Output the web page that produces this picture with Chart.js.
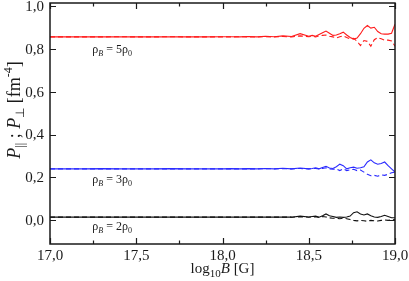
<!DOCTYPE html>
<html>
<head>
<meta charset="utf-8">
<script src="https://cdn.jsdelivr.net/npm/chart.js@4/dist/chart.umd.min.js"></script>
<style>
html,body{margin:0;padding:0;background:#fff;}
#wrap{width:409px;height:281px;}
.pre{font-family:"Liberation Serif";position:absolute;left:-999px;top:0;}
</style>
</head>
<body>
<span class="pre">17,0 <i>P</i></span>
<div id="wrap"><canvas id="c" width="409" height="281"></canvas></div>
<script>
// log10 B values
const logB = [17.0,17.1,17.2,17.3,17.4,17.5,17.6,17.7,17.8,17.9,18.0,
  18.05,18.1,18.15,18.2,18.25,18.3,18.35,18.4,18.45,18.5,
  18.52,18.54,18.56,18.58,18.6,18.62,18.64,18.66,18.68,18.7,18.72,18.74,18.76,18.78,18.8,
  18.82,18.84,18.86,18.88,18.9,18.92,18.94,18.96,18.98,19.0];

// rho_B = 5 rho_0
const red_par = [0.855,0.855,0.856,0.855,0.855,0.856,0.855,0.855,0.856,0.855,0.856,
  0.856,0.855,0.857,0.855,0.858,0.856,0.860,0.857,0.870,0.858,
  0.862,0.858,0.866,0.874,0.882,0.872,0.862,0.864,0.870,0.877,0.864,0.852,0.845,0.850,0.870,
  0.895,0.908,0.896,0.900,0.880,0.870,0.868,0.868,0.872,0.914];
const red_perp = [0.855,0.855,0.855,0.855,0.856,0.855,0.855,0.856,0.855,0.855,0.855,
  0.855,0.856,0.855,0.854,0.856,0.855,0.857,0.855,0.860,0.856,
  0.858,0.855,0.860,0.862,0.864,0.858,0.855,0.850,0.856,0.860,0.852,0.846,0.848,0.835,0.815,
  0.838,0.834,0.812,0.842,0.852,0.846,0.840,0.840,0.836,0.812];

// rho_B = 3 rho_0
const blue_par = [0.240,0.240,0.240,0.241,0.240,0.240,0.240,0.241,0.240,0.240,0.240,
  0.241,0.240,0.241,0.240,0.242,0.240,0.243,0.240,0.244,0.240,
  0.242,0.245,0.240,0.246,0.252,0.244,0.242,0.250,0.262,0.255,0.240,0.245,0.248,0.243,0.245,
  0.250,0.272,0.282,0.268,0.262,0.265,0.272,0.255,0.240,0.225];
const blue_perp = [0.240,0.240,0.240,0.240,0.240,0.240,0.240,0.240,0.240,0.240,0.240,
  0.240,0.240,0.240,0.240,0.241,0.240,0.241,0.240,0.242,0.240,
  0.241,0.242,0.240,0.242,0.245,0.240,0.238,0.240,0.232,0.240,0.232,0.236,0.238,0.232,0.235,
  0.225,0.215,0.208,0.210,0.206,0.212,0.210,0.215,0.222,0.225];

// rho_B = 2 rho_0
const black_par = [0.015,0.015,0.015,0.015,0.015,0.015,0.015,0.015,0.015,0.015,0.015,
  0.015,0.015,0.016,0.015,0.016,0.015,0.016,0.015,0.020,0.016,
  0.018,0.020,0.015,0.022,0.030,0.022,0.018,0.014,0.016,0.014,0.016,0.020,0.036,0.040,0.030,
  0.025,0.030,0.022,0.016,0.014,0.018,0.024,0.018,0.012,0.012];
const black_perp = [0.015,0.015,0.015,0.015,0.015,0.015,0.015,0.015,0.015,0.015,0.015,
  0.015,0.015,0.015,0.015,0.015,0.015,0.015,0.015,0.017,0.015,
  0.016,0.017,0.014,0.018,0.016,0.012,0.010,0.010,0.008,0.010,0.008,0.004,0.000,-0.002,0.000,
  -0.002,-0.004,0.000,-0.002,-0.003,0.000,0.002,0.000,0.002,0.004];

// tick labels
const xTickValues = [17.0,17.5,18.0,18.5,19.0];
const xTickLabels = ["17,0","17,5","18,0","18,5","19,0"];
const xMinorValues = [17.25,17.75,18.25,18.75];
const yTickValues = [0.0,0.2,0.4,0.6,0.8,1.0];
const yTickLabels = ["0,0","0,2","0,4","0,6","0,8","1,0"];

const curveLabels = [
  {main:"5", y:0.78},
  {main:"3", y:0.173},
  {main:"2", y:-0.047}
];

function pts(arr){ return logB.map((x,i)=>({x:x, y:arr[i]})); }

const RED = "#ff1a1a", BLUE = "#2a2aff", BLACK = "#111111";
function ds(arr, color, dashed){
  return {data: pts(arr), borderColor: color, borderWidth: 1.1, pointRadius: 0,
    borderDash: dashed ? [5,3] : [], tension: 0, fill: false};
}

const SERIF = "\"Liberation Serif\", serif";

const decor = {
  id: 'decor',
  afterDraw(chart){
    const ctx = chart.ctx, a = chart.chartArea;
    const xs = chart.scales.x, ys = chart.scales.y;
    ctx.save();
    // frame
    ctx.strokeStyle = "#1a1a1a"; ctx.lineWidth = 1.5;
    ctx.strokeRect(a.left, a.top, a.right - a.left, a.bottom - a.top);
    ctx.lineWidth = 1.2;
    ctx.beginPath();
    xTickValues.forEach(v=>{
      const p = Math.round(xs.getPixelForValue(v))+0.5;
      ctx.moveTo(p, a.bottom); ctx.lineTo(p, a.bottom-6);
      ctx.moveTo(p, a.top); ctx.lineTo(p, a.top+6);
    });
    xMinorValues.forEach(v=>{
      const p = Math.round(xs.getPixelForValue(v))+0.5;
      ctx.moveTo(p, a.bottom); ctx.lineTo(p, a.bottom-3.5);
      ctx.moveTo(p, a.top); ctx.lineTo(p, a.top+3.5);
    });
    yTickValues.forEach(v=>{
      const p = Math.round(ys.getPixelForValue(v))+0.5;
      ctx.moveTo(a.left, p); ctx.lineTo(a.left+6, p);
      ctx.moveTo(a.right, p); ctx.lineTo(a.right-6, p);
    });
    ctx.stroke();
    // tick labels
    ctx.fillStyle = "#1a1a1a";
    ctx.font = "15px " + SERIF;
    ctx.textAlign = "center"; ctx.textBaseline = "alphabetic";
    xTickValues.forEach((v,i)=>{
      ctx.fillText(xTickLabels[i], xs.getPixelForValue(v), a.bottom + 15.5);
    });
    ctx.textAlign = "right"; ctx.textBaseline = "middle";
    yTickValues.forEach((v,i)=>{
      ctx.fillText(yTickLabels[i], a.left - 6, ys.getPixelForValue(v) + 1);
    });
    // x title: log10B [G]
    const parts = [
      {t:"log", f:"15px "+SERIF, dy:0},
      {t:"10", f:"11px "+SERIF, dy:4},
      {t:"B", f:"italic 15px "+SERIF, dy:0},
      {t:" [G]", f:"15px "+SERIF, dy:0}
    ];
    drawParts(ctx, parts, (a.left+a.right)/2, a.bottom + 29);
    // y title
    ctx.save();
    ctx.translate(20, 110);
    ctx.rotate(-Math.PI/2);
    const yparts = [
      {t:"P", f:"italic 18px "+SERIF, dy:0},
      {t:"||", f:"12px "+SERIF, dy:4},
      {t:" ; ", f:"18px "+SERIF, dy:0},
      {t:"P", f:"italic 18px "+SERIF, dy:0},
      {t:"\u22A5", f:"12px "+SERIF, dy:4},
      {t:" [fm", f:"18px "+SERIF, dy:0},
      {t:"-4", f:"12px "+SERIF, dy:-8},
      {t:"]", f:"18px "+SERIF, dy:0}
    ];
    drawParts(ctx, yparts, 0, 0);
    ctx.restore();
    // curve labels
    curveLabels.forEach(c=>{
      const lp = [
        {t:"\u03C1", f:"12px "+SERIF, dy:0},
        {t:"B", f:"italic 8px "+SERIF, dy:2.5},
        {t:" = "+c.main+"\u03C1", f:"12px "+SERIF, dy:0},
        {t:"0", f:"8px "+SERIF, dy:2.5}
      ];
      drawPartsLeft(ctx, lp, xs.getPixelForValue(17.245), ys.getPixelForValue(c.y));
    });
    ctx.restore();
  }
};

function measure(ctx, parts){
  let w = 0;
  parts.forEach(p=>{ ctx.font = p.f; w += ctx.measureText(p.t).width; });
  return w;
}
function drawParts(ctx, parts, cx, by){
  const w = measure(ctx, parts);
  drawPartsLeft(ctx, parts, cx - w/2, by);
}
function drawPartsLeft(ctx, parts, x, by){
  ctx.textAlign = "left"; ctx.textBaseline = "alphabetic"; ctx.fillStyle = "#1a1a1a";
  parts.forEach(p=>{
    ctx.font = p.f;
    ctx.fillText(p.t, x, by + p.dy);
    x += ctx.measureText(p.t).width;
  });
}

function build(){
  new Chart(document.getElementById('c'), {
    type: 'line',
    data: {
      datasets: [
        ds(red_par, RED, false), ds(red_perp, RED, true),
        ds(blue_par, BLUE, false), ds(blue_perp, BLUE, true),
        ds(black_par, BLACK, false), ds(black_perp, BLACK, true)
      ]
    },
    options: {
      responsive: false,
      animation: false,
      devicePixelRatio: 1,
      layout: {padding: {top: 3, right: 14, left: 0, bottom: 0}},
      plugins: {legend: {display: false}, tooltip: {enabled: false}},
      scales: {
        x: {type: 'linear', min: 17, max: 19,
            grid: {display: false}, border: {display: false},
            ticks: {display: false},
            afterFit(s){ s.height = 37; }},
        y: {type: 'linear', min: -0.11, max: 1.013,
            grid: {display: false}, border: {display: false},
            ticks: {display: false},
            afterFit(s){ s.width = 50; }}
      }
    },
    plugins: [decor]
  });
}
const fontLoads = [
  '15px "Liberation Serif"', 'italic 15px "Liberation Serif"'
].map(f => document.fonts.load(f).catch(()=>null));
Promise.all(fontLoads).then(build, build);
</script>
</body>
</html>
